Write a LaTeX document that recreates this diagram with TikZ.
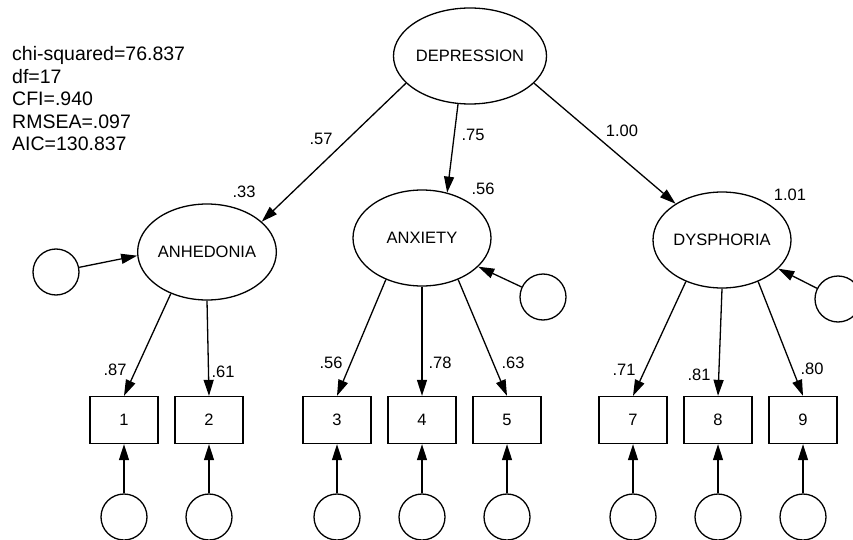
\documentclass[tikz,border=0pt]{standalone}
\usepackage{fontspec}
\setmainfont{Liberation Sans}
\usetikzlibrary{arrows.meta,shapes.geometric}
\begin{document}
\begin{tikzpicture}[x=1pt,y=-1pt,
 latent/.style={ellipse,draw,line width=1.3pt,minimum width=138pt,minimum height=96pt,inner sep=0pt,font=\fontsize{16.5}{18}\selectfont},
 err/.style={circle,draw,line width=1.3pt,minimum size=46pt,inner sep=0pt},
 obs/.style={rectangle,draw,line width=1.3pt,minimum width=68pt,minimum height=47pt,inner sep=0pt,font=\fontsize{16.5}{18}\selectfont},
 causal/.style={line width=1.3pt,-{Triangle[length=16pt,width=10pt]}},
 coef/.style={font=\fontsize{16.5}{18}\selectfont,inner sep=0pt},
 fitline/.style={anchor=base west,inner sep=0pt,font=\fontsize{19.5}{22}\selectfont}]
\useasboundingbox (0,0) rectangle (853,540);
\fill[white] (0,0) rectangle (853,540);

% fit statistics
\node[fitline] (fit1) at (12,61) {chi-squared=76.837};
\node[fitline] (fit2) at (12,83.5) {df=17};
\node[fitline] (fit3) at (12,106) {CFI=.940};
\node[fitline] (fit4) at (12,128.5) {RMSEA=.097};
\node[fitline] (fit5) at (12,151) {AIC=130.837};

% latent variables
\node[latent] (dep) at (470,56) {DEPRESSION};
\node[latent] (anh) at (207,252) {ANHEDONIA};
\node[latent] (anx) at (422,238) {ANXIETY};
\node[latent] (dys) at (722,240) {DYSPHORIA};

% latent disturbances
\node[err] (danh) at (56,272) {};
\node[err] (danx) at (543,297) {};
\node[err] (ddys) at (838,299) {};

% observed variables
\node[obs] (b1) at (124,420) {1};
\node[obs] (b2) at (209,420) {2};
\node[obs] (b3) at (337,420) {3};
\node[obs] (b4) at (422,420) {4};
\node[obs] (b5) at (507,420) {5};
\node[obs] (b7) at (633,420) {7};
\node[obs] (b8) at (718,420) {8};
\node[obs] (b9) at (803,420) {9};

% measurement errors
\node[err] (e1) at (124,517) {};
\node[err] (e2) at (209,517) {};
\node[err] (e3) at (337,517) {};
\node[err] (e4) at (422,517) {};
\node[err] (e5) at (507,517) {};
\node[err] (e7) at (633,517) {};
\node[err] (e8) at (718,517) {};
\node[err] (e9) at (803,517) {};

% second-order paths
\draw[causal] (dep.203) -- (anh.29);
\draw[causal] (dep.256) -- (anx.61);
\draw[causal] (dep.337) -- (dys.142);

% disturbances
\draw[causal] (danh) -- (anh.183);
\draw[causal] (danx) -- (anx.333);
\draw[causal] (ddys) -- (dys.333);

% loadings
\draw[causal] (anh.229) -- (b1.north);
\draw[causal] (anh.270) -- (b2.north);
\draw[causal] (anx.229) -- (b3.north);
\draw[causal] (anx.270) -- (b4.north);
\draw[causal] (anx.311) -- (b5.north);
\draw[causal] (dys.229) -- (b7.north);
\draw[causal] (dys.270) -- (b8.north);
\draw[causal] (dys.311) -- (b9.north);

% errors to indicators
\foreach \i in {1,2,3,4,5,7,8,9} {
  \draw[causal] (e\i) -- (b\i);
}

% coefficients
\node[coef] (c57) at (321,139) {.57};
\node[coef] (c75) at (473,135) {.75};
\node[coef] (c100) at (622,131) {1.00};
\node[coef] (r33) at (244,192) {.33};
\node[coef] (r56) at (483,189) {.56};
\node[coef] (r101) at (790,195) {1.01};
\node[coef] (l87) at (115,370) {.87};
\node[coef] (l61) at (223,372) {.61};
\node[coef] (l56) at (331,363) {.56};
\node[coef] (l78) at (440,363) {.78};
\node[coef] (l63) at (513,363) {.63};
\node[coef] (l71) at (624,370) {.71};
\node[coef] (l81) at (699,375) {.81};
\node[coef] (l80) at (812,369) {.80};
\end{tikzpicture}
\end{document}
